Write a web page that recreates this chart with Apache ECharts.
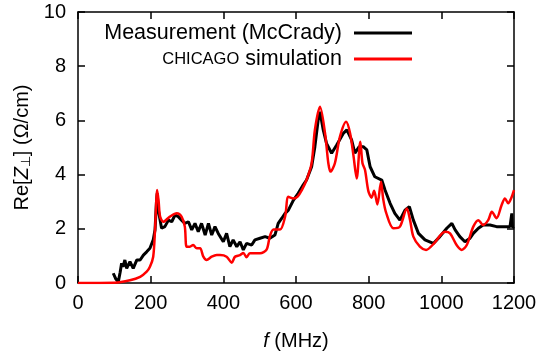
<!DOCTYPE html>
<html>
<head>
<meta charset="utf-8">
<script src="https://cdn.jsdelivr.net/npm/echarts@6/dist/echarts.min.js"></script>
<style>html,body{margin:0;padding:0;background:#fff}#c{width:544px;height:360px}</style>
</head>
<body>
<div id="c"></div>
<script>
const xTicks = [0, 200, 400, 600, 800, 1000, 1200];
const yTicks = [0, 2, 4, 6, 8, 10];
const seriesNames = ['Measurement (McCrady)', 'CHICAGO simulation'];

const measFreq = [97,104,111,116,120,124,129,134,143,152,162,171,180,189,198,207,212,216,218,221,230,239,249,258,267,276,285,294,304,313,322,331,340,350,359,368,377,386,391,400,409,418,427,437,446,455,464,478,487,501,515,528,542,551,561,570,579,593,606,620,629,643,652,661,666,675,684,698,712,730,740,753,762,774,785,795,804,817,836,845,859,872,886,900,912,923,937,955,978,996,1015,1029,1038,1051,1065,1079,1088,1102,1115,1134,1152,1170,1189,1193,1194,1196,1200];
const measRe = [0.36,0.15,0.05,0.4,0.73,0.6,0.85,0.54,0.79,0.54,0.85,0.85,1.03,1.15,1.28,1.59,1.96,3.0,3.31,2.69,2.02,2.08,2.32,2.26,2.51,2.45,2.32,2.2,2.26,1.96,2.2,1.89,2.2,1.77,2.2,1.77,2.08,1.83,1.89,1.52,1.83,1.34,1.59,1.34,1.52,1.22,1.46,1.40,1.59,1.65,1.71,1.65,1.77,2.2,2.39,2.57,2.69,3.06,3.31,3.62,3.8,4.29,5.03,6.01,6.32,5.65,5.15,4.79,5.09,5.52,5.65,5.28,4.79,5.03,5.03,4.91,4.29,3.92,3.8,3.43,2.94,2.57,2.32,2.69,2.82,2.32,1.83,1.59,1.46,1.71,2.02,2.2,1.96,1.71,1.52,1.65,1.83,2.02,2.14,2.14,2.08,2.08,2.08,2.1,2.57,2.05,2.08];

const simFreq = [0,100,143,171,189,198,207,212,218,222,226,235,253,272,285,294,299,308,317,327,336,345,354,368,382,391,409,423,432,446,455,464,473,501,519,528,538,556,570,579,593,605,616,629,643,652,666,680,689,695,707,721,738,749,758,767,777,783,790,799,808,815,824,834,840,848,868,886,905,914,923,941,958,980,1010,1024,1042,1056,1070,1088,1102,1115,1129,1139,1152,1166,1175,1184,1192,1200];
const simRe = [0,0.01,0.1,0.23,0.42,0.6,0.97,1.96,3.43,3.0,2.45,2.26,2.45,2.57,2.45,2.08,1.34,1.34,1.40,1.28,1.28,0.97,0.85,0.97,1.03,1.03,0.97,0.75,0.97,1.03,1.11,0.95,1.1,1.1,1.23,1.72,1.97,1.97,2.45,3.18,3.12,3.2,3.43,3.8,4.42,5.65,6.5,5.52,4.42,4.11,4.42,5.4,5.95,5.52,4.72,3.86,5.21,4.42,4.17,3.4,3.15,3.4,2.9,3.74,3.1,2.6,2.02,2.08,2.75,2.32,1.71,1.34,1.22,1.46,1.89,1.83,1.40,1.22,1.40,2.08,2.32,2.14,2.32,2.63,2.39,2.88,3.12,2.94,3.12,3.43];

const FONT = '"Liberation Sans", Arial, sans-serif';
const measData = measFreq.map((f, i) => [f, measRe[i]]);
const simData = simFreq.map((f, i) => [f, simRe[i]]);

const axisLineStyle = {color: '#000', width: 1.5};
const baseX = {type: 'value', min: xTicks[0], max: xTicks[xTicks.length-1], interval: 200,
  splitLine: {show: false}, axisLine: {show: true, onZero: false, lineStyle: axisLineStyle},
  axisTick: {show: true, inside: true, length: 7, lineStyle: {color: '#000', width: 1.5}}};
const baseY = {type: 'value', min: yTicks[0], max: yTicks[yTicks.length-1], interval: 2,
  splitLine: {show: false}, axisLine: {show: true, onZero: false, lineStyle: axisLineStyle},
  axisTick: {show: true, inside: true, length: 7, lineStyle: {color: '#000', width: 1.5}}};

const chart = echarts.init(document.getElementById('c'), null, {renderer: 'canvas'});
chart.setOption({
  animation: false,
  backgroundColor: '#fff',
  textStyle: {fontFamily: FONT},
  grid: {left: 78, right: 30, top: 12, bottom: 77},
  legend: [
    {data: [seriesNames[0]], right: 132, top: 22, padding: 0, align: 'right', icon: 'rect',
     itemWidth: 58, itemHeight: 3,
     textStyle: {fontFamily: FONT, fontSize: 21.5, color: '#000', padding: [0, 7, 0, 0]}},
    {data: [seriesNames[1]], right: 132, top: 48, padding: 0, align: 'right', icon: 'rect',
     itemWidth: 58, itemHeight: 3,
     formatter: () => '{sc|CHICAGO} simulation',
     textStyle: {fontFamily: FONT, fontSize: 21.5, color: '#000', padding: [0, 7, 0, 0],
       rich: {sc: {fontFamily: FONT, fontSize: 16.5, color: '#000'}}}}
  ],
  xAxis: [
    Object.assign({}, baseX, {position: 'bottom',
      axisLabel: {show: true, margin: 10, color: '#000', fontSize: 20, fontFamily: FONT,
        formatter: v => String(v)},
      name: '{i|f} (MHz)', nameLocation: 'middle', nameGap: 48,
      nameTextStyle: {color: '#000', fontSize: 20, fontFamily: FONT,
        rich: {i: {fontStyle: 'italic', fontSize: 20, fontFamily: FONT, color: '#000'}}}}),
    Object.assign({}, baseX, {position: 'top', axisLabel: {show: false}})
  ],
  yAxis: [
    Object.assign({}, baseY, {position: 'left',
      axisLabel: {show: true, margin: 12, color: '#000', fontSize: 20, fontFamily: FONT,
        formatter: v => String(v)},
      name: 'Re[{i|Z}{s|⊥}] (Ω/cm)', nameLocation: 'middle', nameGap: 44, nameRotate: 90,
      nameTextStyle: {color: '#000', fontSize: 20, fontFamily: FONT,
        rich: {i: {fontStyle: 'italic', fontSize: 20, fontFamily: FONT, color: '#000'},
               s: {fontSize: 13, fontFamily: FONT, color: '#000', verticalAlign: 'bottom', padding: [8, 0, 0, 0]}}}}),
    Object.assign({}, baseY, {position: 'right', axisLabel: {show: false}})
  ],
  series: [
    {name: seriesNames[0], type: 'line', data: measData, showSymbol: false, symbol: 'none',
     lineStyle: {color: '#000', width: 3}, itemStyle: {color: '#000'}, z: 2},
    {name: seriesNames[1], type: 'line', data: simData, showSymbol: false, symbol: 'none', smooth: 0.3,
     lineStyle: {color: '#ff0000', width: 2.5}, itemStyle: {color: '#ff0000'}, z: 3}
  ]
});
</script>
</body>
</html>
